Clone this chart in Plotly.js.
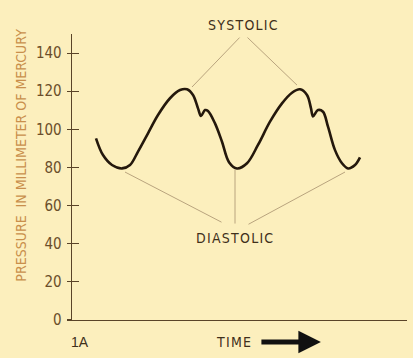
<!DOCTYPE html>
<html>
<head>
<meta charset="utf-8">
<script src="https://cdn.plot.ly/plotly-3.0.1.min.js"></script>
<style>
html,body{margin:0;padding:0;background:#fcefbd;}
#chart{width:413px;height:358px;}
</style>
</head>
<body>
<div id="chart"></div>
<script>
// Time (arbitrary units) and pressure (mm Hg)
var time = [0.24,0.31,0.40,0.50,0.58,0.66,0.76,0.86,0.98,1.08,1.15,1.21,1.26,1.29,1.33,1.36,1.43,1.50,1.57,1.65,1.75,1.86,1.98,2.10,2.20,2.28,2.35,2.39,2.41,2.46,2.51,2.56,2.63,2.70,2.76,2.83,2.88];
var pressure = [95.3,86.5,81.3,79.5,81.3,88.3,97.9,107.5,116.3,120.6,121.0,118.0,111.0,107.0,110.1,109.6,103.1,93.5,82.8,79.5,82.2,91.8,104.0,113.6,119.2,121.0,118.0,111.0,106.8,110.1,109.2,101.4,89.1,82.2,79.5,81.3,85.3];
var yTicks = [0,20,40,60,80,100,120,140];
var yTickLabels = ["0","20","40","60","80","100","120","140"];

// Pointer lines: [headTime, headPressure, tailTime, tailPressure]
var systolicPointers = [[1.20,122.2,1.69,148.9],[2.25,123.2,1.74,148.9]];
var diastolicPointers = [[0.53,77.6,1.51,50.9],[1.63,78.7,1.63,49.8],[2.73,77.6,1.75,49.8]];

var font = "'DejaVu Sans Condensed','Liberation Sans Narrow','DejaVu Sans',sans-serif";
var dark = "#3f301b";
var pointerColor = "#b9a47e";

var annotations = [];
systolicPointers.concat(diastolicPointers).forEach(function(p){
  annotations.push({x:p[0], y:p[1], ax:p[2], ay:p[3], xref:'x', yref:'y', axref:'x', ayref:'y',
    text:'', showarrow:true, arrowhead:0, arrowwidth:1, arrowcolor:pointerColor, standoff:0, startstandoff:0});
});
annotations.push({xref:'paper', yref:'paper', x:0.51, y:1.03, text:'S\u200aY\u200aS\u200aT\u200aO\u200aL\u200aI\u200aC', showarrow:false,
  font:{family:font, size:14, color:dark}, xanchor:'center', yanchor:'middle'});
annotations.push({xref:'paper', yref:'paper', x:0.486, y:0.287, text:'D\u200aI\u200aA\u200aS\u200aT\u200aO\u200aL\u200aI\u200aC', showarrow:false,
  font:{family:font, size:14, color:dark}, xanchor:'center', yanchor:'middle'});
annotations.push({xref:'paper', yref:'paper', x:0.481, y:-0.077, text:'T\u200aI\u200aM\u200aE', showarrow:false,
  font:{family:font, size:14, color:dark}, xanchor:'center', yanchor:'middle'});
annotations.push({xref:'paper', yref:'paper', x:0.024, y:-0.077, text:'1A', showarrow:false,
  font:{family:"'Liberation Sans','DejaVu Sans',sans-serif", size:14, color:dark}, xanchor:'center', yanchor:'middle'});
annotations.push({xref:'paper', yref:'paper', x:0.743, y:-0.077, ax:-61, ay:0, text:'', showarrow:true,
  arrowhead:2, arrowsize:0.9, arrowwidth:5, arrowcolor:'#111111', standoff:0});
annotations.push({xref:'paper', yref:'paper', x:-0.155, y:0.575, text:'PRESSURE  IN MILLIMETER OF MERCURY', textangle:-90,
  showarrow:false, font:{family:font, size:14, color:'#c98f4c'}, xanchor:'center', yanchor:'middle'});

var trace = {x:time, y:pressure, mode:'lines', line:{color:'#24180c', width:2.6, shape:'spline', smoothing:1},
  hoverinfo:'skip', showlegend:false};

var layout = {
  width:413, height:358,
  margin:{l:72, r:6, t:34, b:38},
  paper_bgcolor:'#fcefbd', plot_bgcolor:'#fcefbd',
  showlegend:false,
  xaxis:{range:[0,3.35], showgrid:false, zeroline:false, showticklabels:false, ticks:'',
    showline:true, linecolor:'#5a4428', linewidth:1.3},
  yaxis:{range:[0,150], showgrid:false, zeroline:false, tickvals:yTicks, ticktext:yTickLabels,
    ticks:'outside', ticklen:4, tickwidth:1.1, tickcolor:'#5a4428',
    showline:true, linecolor:'#5a4428', linewidth:1.3,
    tickfont:{family:font, size:15, color:'#6b4e2a'}, ticklabelstandoff:2},
  yaxis2:{range:[0,150], overlaying:'y', side:'left', showgrid:false, zeroline:false,
    tickvals:yTicks.slice(1), ticks:'inside', ticklen:7, tickwidth:1.1, tickcolor:'#5a4428',
    showticklabels:false, showline:false},
  annotations:annotations
};
var guide = {x:[0], y:[0], yaxis:'y2', mode:'markers', marker:{opacity:0}, hoverinfo:'skip', showlegend:false};

Plotly.newPlot('chart', [trace, guide], layout, {displayModeBar:false, staticPlot:true});
</script>
</body>
</html>
